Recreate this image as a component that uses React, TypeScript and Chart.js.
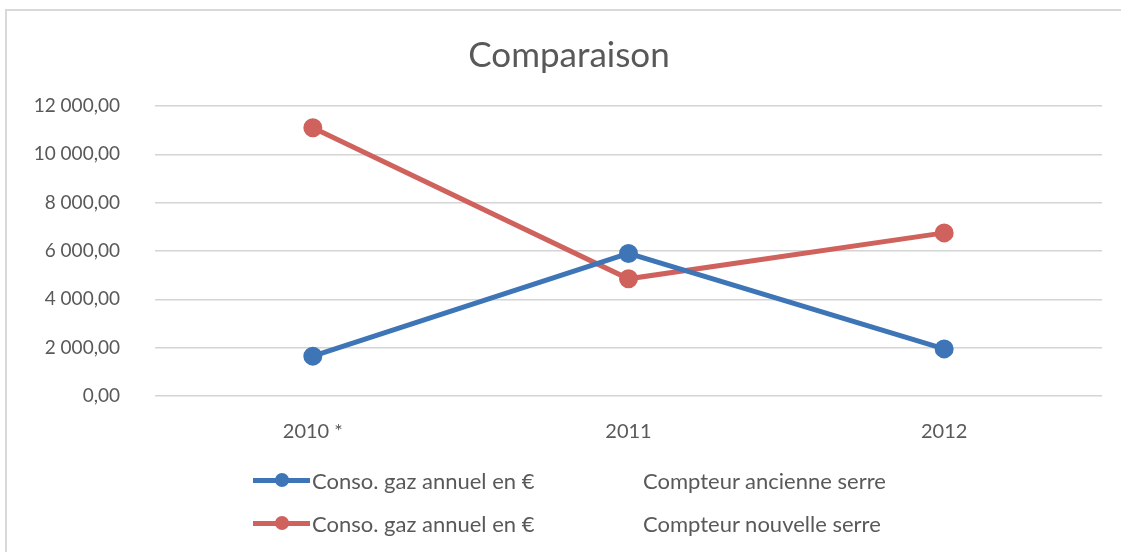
import React, { useEffect, useRef } from "react";
import { Chart, registerables } from "chart.js";

Chart.register(...registerables);

const categories = ["2010 *", "2011", "2012"];
const ancienneSerre = [1650, 5900, 1950];
const nouvelleSerre = [11100, 4850, 6750];
const seriesNames = ["Conso. gaz annuel en €", "Conso. gaz annuel en €"];
const seriesSubNames = ["Compteur ancienne serre", "Compteur nouvelle serre"];
const yTicks = [0, 2000, 4000, 6000, 8000, 10000, 12000];
const chartTitle = "Comparaison";

const BLUE = "#3E75B6";
const RED = "#D0625D";
const FONT = "Lato, 'Open Sans', sans-serif";
const TEXT = "#595959";

function fmt(v: number) {
  const fixed = v.toFixed(2).replace(".", ",");
  const [i, d] = fixed.split(",");
  return i.replace(/\B(?=(\d{3})+(?!\d))/g, " ") + "," + d;
}

export default function App() {
  const ref = useRef<HTMLCanvasElement | null>(null);
  useEffect(() => {
    if (!ref.current) return;
    const chart = new Chart(ref.current, {
      type: "line",
      data: {
        labels: categories,
        datasets: [
          {
            label: seriesNames[0] + " " + seriesSubNames[0],
            data: ancienneSerre,
            borderColor: BLUE,
            backgroundColor: BLUE,
            borderWidth: 5,
            pointRadius: 7,
            pointBackgroundColor: BLUE,
            pointBorderColor: BLUE,
          },
          {
            label: seriesNames[1] + " " + seriesSubNames[1],
            data: nouvelleSerre,
            borderColor: RED,
            backgroundColor: RED,
            borderWidth: 5,
            pointRadius: 7,
            pointBackgroundColor: RED,
            pointBorderColor: RED,
          },
        ],
      },
      options: {
        animation: false,
        responsive: false,
        maintainAspectRatio: false,
        layout: { padding: { top: 106, left: 0, right: 19, bottom: 84 } },
        plugins: {
          legend: { display: false },
          tooltip: { enabled: false },
          title: { display: false },
        },
        scales: {
          x: {
            offset: true,
            grid: { display: false, drawTicks: false },
            border: { display: false },
            ticks: { color: TEXT, font: { family: FONT, size: 20 }, padding: 24 },
          },
          y: {
            min: 0,
            max: 12000,
            afterFit: (s: any) => {
              s.width = 155;
            },
            afterBuildTicks: (s: any) => {
              s.ticks = yTicks.map((v) => ({ value: v }));
            },
            grid: { color: "#D4D4D4", lineWidth: 1.5, drawTicks: false },
            border: { display: false },
            ticks: {
              color: TEXT,
              font: { family: FONT, size: 19 },
              padding: 35,
              callback: (v: any) => fmt(Number(v)),
            },
          },
        },
      },
    });
    return () => chart.destroy();
  }, []);

  const legendRow = (color: string, name: string, sub: string, top: number) => (
    <div style={{ position: "absolute", left: 253, top: top - 15, height: 30, display: "flex", alignItems: "center", fontFamily: FONT, fontSize: 22, color: TEXT, whiteSpace: "nowrap" }}>
      <div style={{ position: "relative", width: 57, height: 30 }}>
        <div style={{ position: "absolute", left: 0, top: 12.5, width: 57, height: 5, background: color }} />
        <div style={{ position: "absolute", left: 22, top: 8, width: 14, height: 14, borderRadius: 7, background: color }} />
      </div>
      <span style={{ marginLeft: 2 }}>{name}</span>
      <span style={{ position: "absolute", left: 390 }}>{sub}</span>
    </div>
  );

  return (
    <div style={{ position: "fixed", left: 0, top: 0, width: 1121, height: 552, background: "#fff", overflow: "hidden" }}>
      <div style={{ position: "absolute", left: 5, top: 9, width: 1116, height: 2, background: "#D9D9D9" }} />
      <div style={{ position: "absolute", left: 5, top: 9, width: 2, height: 543, background: "#D9D9D9" }} />
      <canvas ref={ref} width={1121} height={552} style={{ position: "absolute", left: 0, top: 0 }} />
      <div style={{ position: "absolute", left: 0, top: 32, width: 1121, paddingLeft: 17, boxSizing: "border-box", textAlign: "center", fontFamily: FONT, fontSize: 35, lineHeight: "42px", color: TEXT }}>
        {chartTitle}
      </div>
      {legendRow(BLUE, seriesNames[0], seriesSubNames[0], 480)}
      {legendRow(RED, seriesNames[1], seriesSubNames[1], 523)}
    </div>
  );
}
